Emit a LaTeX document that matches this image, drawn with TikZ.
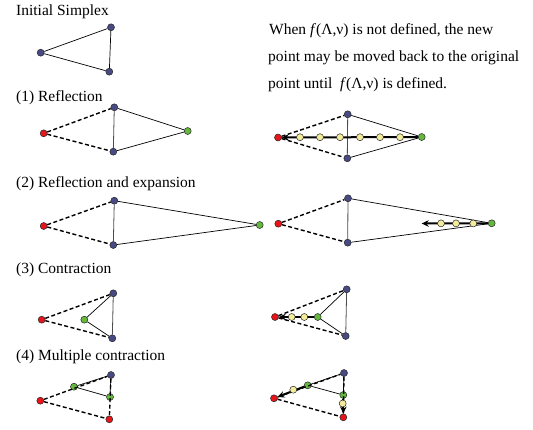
\documentclass[tikz,border=0pt]{standalone}
\usepackage{fontspec}
\IfFontExistsTF{LiberationSerif-Regular.ttf}
  {\setmainfont{LiberationSerif-Regular.ttf}[ItalicFont=LiberationSerif-Italic.ttf,BoldFont=LiberationSerif-Bold.ttf]}
  {\setmainfont{Liberation Serif}}
\usetikzlibrary{arrows.meta}
\definecolor{vblue}{RGB}{72,74,132}
\definecolor{vred}{RGB}{232,20,26}
\definecolor{vgreen}{RGB}{100,185,60}
\definecolor{vyellow}{RGB}{243,237,155}
\tikzset{
  vtx/.style={circle, draw=black!85, line width=0.5pt, inner sep=0pt, minimum size=7pt},
  bv/.style={vtx, fill=vblue},
  rv/.style={vtx, fill=vred},
  gv/.style={vtx, fill=vgreen},
  yv/.style={vtx, fill=vyellow},
  dsh/.style={line width=1.4pt, dash pattern=on 4pt off 2.5pt},
  sl/.style={line width=0.7pt},
  vl/.style={line width=0.8pt, black!70},
  arr/.style={line width=2pt, -{Stealth[length=7pt,width=6.5pt]}},
  lbl/.style={anchor=base west, inner sep=0pt, font=\fontsize{15.5}{18}\selectfont},
}
\begin{document}
\begin{tikzpicture}[x=1pt,y=-1pt]
\useasboundingbox (0,0) rectangle (533,429);
% labels
\node[lbl] (t0) at (16,15.3) {Initial Simplex};
\node[lbl] (t1) at (16,101) {(1) Reflection};
\node[lbl] (t2) at (16,187) {(2) Reflection and expansion};
\node[lbl] (t3) at (16,273) {(3) Contraction};
\node[lbl] (t4) at (16,360) {(4) Multiple contraction};
\node[lbl] (p1) at (269,34) {When \textit{f}(Λ,ν) is not defined, the new};
\node[lbl] (p2) at (268,61.5) {point may be moved back to the original};
\node[lbl] (p3) at (268,88.5) {point until \ \textit{f}(Λ,ν) is defined.};

% Initial simplex
\node[bv] (a1) at (40.7,52.7) {};
\node[bv] (a2) at (111,27.3) {};
\node[bv] (a3) at (109.3,71.7) {};
\draw[sl] (a1) -- (a2);
\draw[sl] (a1) -- (a3);
\draw[sl] (a2) -- (a3);

% (1) left
\node[rv] (b1) at (43.7,133.3) {};
\node[bv] (b2) at (114.3,107.3) {};
\node[bv] (b3) at (113.3,151.7) {};
\node[gv] (b4) at (187.7,131) {};
\draw[dsh] (b1) -- (b2);
\draw[dsh] (b1) -- (b3);
\draw[vl] (b2) -- (b3);
\draw[sl] (b2) -- (b4);
\draw[sl] (b3) -- (b4);

% (1) right
\node[rv] (c1) at (278,137.5) {};
\node[bv] (c2) at (347.7,114.3) {};
\node[bv] (c3) at (347.3,158.3) {};
\node[gv] (c4) at (421.7,137) {};
\draw[dsh] (c1) -- (c2);
\draw[dsh] (c1) -- (c3);
\draw[vl] (c2) -- (c3);
\draw[sl] (c2) -- (c4);
\draw[sl] (c3) -- (c4);
\draw[arr] (c4) -- (c1);
\foreach \i/\x in {1/300,2/320,3/340,4/360,5/380,6/400}{
  \node[yv] (cy\i) at (\x,137.2) {};
}

% (2) left
\node[rv] (d1) at (43.7,226) {};
\node[bv] (d2) at (114.3,200.7) {};
\node[bv] (d3) at (113.3,245) {};
\node[gv] (d4) at (259.7,225) {};
\draw[dsh] (d1) -- (d2);
\draw[dsh] (d1) -- (d3);
\draw[vl] (d2) -- (d3);
\draw[sl] (d2) -- (d4);
\draw[sl] (d3) -- (d4);

% (2) right
\node[rv] (e1) at (278.3,223.7) {};
\node[bv] (e2) at (348,198.3) {};
\node[bv] (e3) at (347.7,242.7) {};
\node[gv] (e4) at (491.7,223.3) {};
\coordinate (ee) at (421.7,223.5);
\draw[dsh] (e1) -- (e2);
\draw[dsh] (e1) -- (e3);
\draw[vl] (e2) -- (e3);
\draw[sl] (e2) -- (e4);
\draw[sl] (e3) -- (e4);
\draw[arr] (e4) -- (ee);
\node[yv] (ey1) at (441,223.4) {};
\node[yv] (ey2) at (456,223.4) {};
\node[yv] (ey3) at (473.3,223.4) {};

% (3) left
\node[rv] (f1) at (41.7,319.7) {};
\node[bv] (f2) at (113.3,293.3) {};
\node[bv] (f3) at (112.3,338.3) {};
\node[gv] (f4) at (84.3,319.7) {};
\draw[dsh] (f1) -- (f2);
\draw[dsh] (f1) -- (f3);
\draw[vl] (f2) -- (f3);
\draw[sl] (f4) -- (f2);
\draw[sl] (f4) -- (f3);

% (3) right
\node[rv] (g1) at (275,317) {};
\node[bv] (g2) at (346.7,289.3) {};
\node[bv] (g3) at (345.7,336) {};
\node[gv] (g4) at (317.7,317) {};
\draw[dsh] (g1) -- (g2);
\draw[dsh] (g1) -- (g3);
\draw[vl] (g2) -- (g3);
\draw[sl] (g4) -- (g2);
\draw[sl] (g4) -- (g3);
\draw[arr] (g4) -- (g1);
\node[yv] (gy1) at (291.7,317) {};
\node[yv] (gy2) at (304.3,317) {};

% (4) left
\node[rv] (h1) at (40.3,400.7) {};
\node[bv] (h2) at (111,375) {};
\node[rv] (h3) at (109.3,419.3) {};
\node[gv] (h4) at (74,386.7) {};
\node[gv] (h5) at (110,397) {};
\draw[dsh] (h1) -- (h2);
\draw[dsh] (h1) -- (h3);
\draw[dsh] (h2) -- (h3);
\draw[sl] (h4) -- (h2);
\draw[sl] (h4) -- (h5);
\draw[sl] (h2) -- (h5);

% (4) right
\node[rv] (k1) at (274,398.3) {};
\node[bv] (k2) at (344,373) {};
\node[rv] (k3) at (343.3,417.3) {};
\node[gv] (k4) at (307.7,385.3) {};
\node[gv] (k5) at (343.3,395) {};
\draw[dsh] (k1) -- (k2);
\draw[dsh] (k1) -- (k3);
\draw[dsh] (k2) -- (k3);
\draw[sl] (k4) -- (k2);
\draw[sl] (k4) -- (k5);
\draw[sl] (k2) -- (k5);
\draw[arr] (k4) -- (k1);
\draw[arr] (k5) -- (k3);
\node[yv] (ky1) at (293.3,389.7) {};
\node[yv] (ky2) at (342.7,403.5) {};
\end{tikzpicture}
\end{document}
